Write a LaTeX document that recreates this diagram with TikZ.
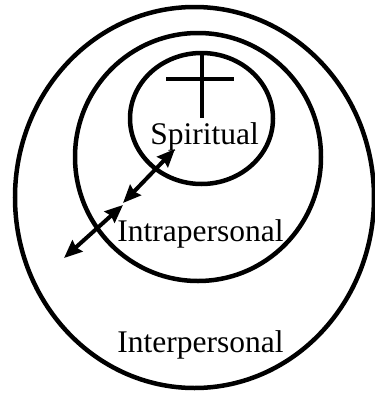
\documentclass[tikz,border=0pt]{standalone}
\usepackage{fontspec}
\setmainfont{Liberation Serif}
\usetikzlibrary{arrows.meta}

\tikzset{
    ring/.style={draw=black, line width=4.5pt},
    crossbar/.style={draw=black, line width=3.8pt},
    sphere/.style={anchor=base, inner sep=0pt, font=\fontsize{31.5}{36}\selectfont},
    link/.style={{Stealth[length=18pt, width=15pt, inset=2pt]}-{Stealth[length=18pt, width=15pt, inset=2pt]}, line width=4pt}
}

\begin{document}
\begin{tikzpicture}[x=1pt, y=-1pt]

    \useasboundingbox (0,0) rectangle (375,394);

    % Interpersonal (outer ring)
    \draw[ring] (194.5,197.5) ellipse [x radius=179.5pt, y radius=190.5pt];
    % Intrapersonal (middle ring)
    \draw[ring] (198,157) ellipse [x radius=123pt, y radius=124pt];
    % Spiritual (inner ring)
    \draw[ring] (201.5,118.5) ellipse [x radius=71.5pt, y radius=65.5pt];

    % Cross
    \coordinate (crosstop) at (202,53);
    \coordinate (crossfoot) at (202,118);
    \coordinate (armleft) at (166,79);
    \coordinate (armright) at (234,79);
    \draw[crossbar] (crosstop) -- (crossfoot);
    \draw[crossbar] (armleft) -- (armright);

    % Labels
    \node[sphere] (spirit) at (204.5,144) {Spiritual};
    \node[sphere] (intra) at (200.5,241.5) {Intrapersonal};
    \node[sphere] (inter) at (200.5,352) {Interpersonal};

    % Links between the rings
    \coordinate (innertip) at (175,149);
    \coordinate (midtipA) at (123,203);
    \coordinate (midtipB) at (123,205);
    \coordinate (outertip) at (64,258);
    \draw[link] (midtipA) -- (innertip);
    \draw[link] (outertip) -- (midtipB);

\end{tikzpicture}
\end{document}
